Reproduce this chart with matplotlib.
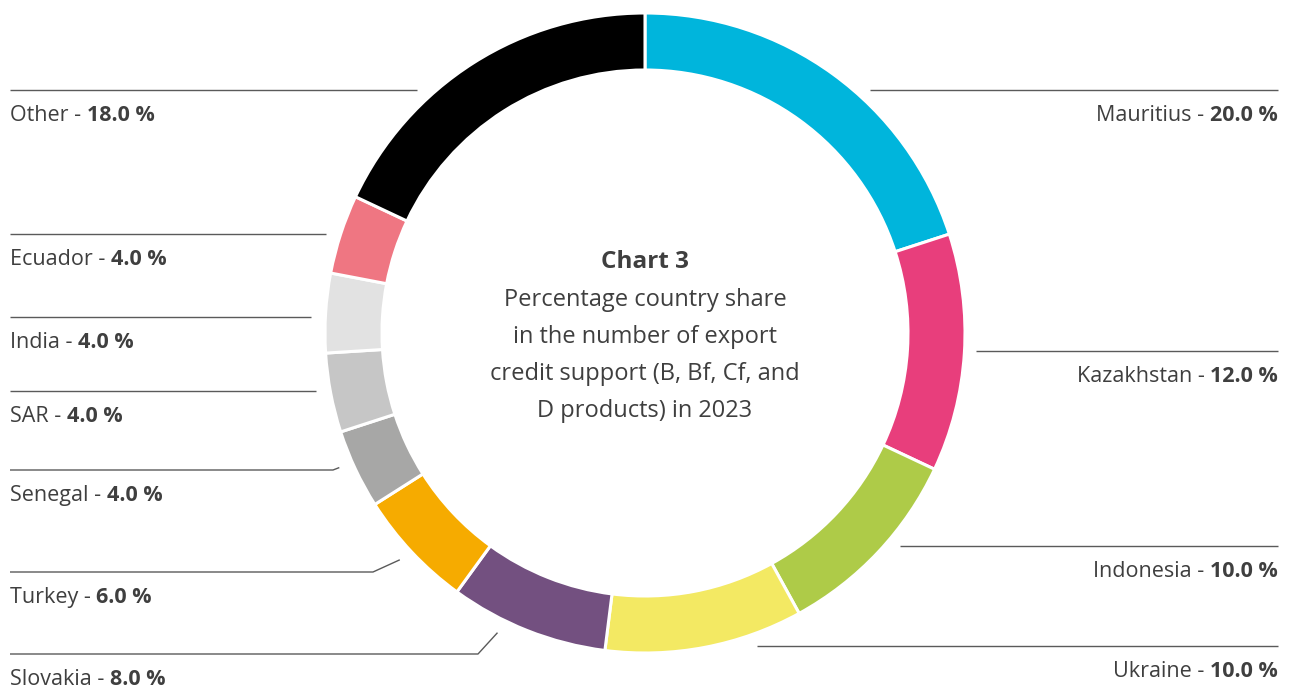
import matplotlib.pyplot as plt
import numpy as np

countries = ["Mauritius", "Kazakhstan", "Indonesia", "Ukraine", "Slovakia", "Turkey",
             "Senegal", "SAR", "India", "Ecuador", "Other"]
shares = [20.0, 12.0, 10.0, 10.0, 8.0, 6.0, 4.0, 4.0, 4.0, 4.0, 18.0]
colors = ["#00b5dc", "#e83e7c", "#aecb48", "#f3e963", "#735080", "#f6ab00",
          "#a7a7a6", "#c6c6c6", "#e2e2e2", "#ef7682", "#000000"]

title = "Chart 3"
subtitle = ["Percentage country share", "in the number of export",
            "credit support (B, Bf, Cf, and", "D products) in 2023"]

W, H = 1292, 691
cx, cy, R, ring = 645, 333, 320, 57
text_col = "#3f3f3f"
line_col = "#5a5a5a"
fs = 15.5

plt.rcParams['font.family'] = ['Open Sans', 'DejaVu Sans']

fig = plt.figure(figsize=(W / 100, H / 100), dpi=100)
ax = fig.add_axes([0, 0, 1, 1])

# y axis runs downward, so counterclock=True draws clockwise on screen
ax.pie(shares, colors=colors, center=(cx, cy), radius=R, startangle=-90,
       counterclock=True, wedgeprops=dict(width=ring, edgecolor="white", linewidth=2.2))
ax.set_xlim(0, W)
ax.set_ylim(H, 0)
ax.set_aspect('equal')
ax.axis('off')

# label layout: side, y of leader line, inner end x of line,
# where along the wedge the angled tip points (None = straight line)
layout = {
    "Mauritius": ("R", 90, 870, None),
    "Kazakhstan": ("R", 351, 976, None),
    "Indonesia": ("R", 546, 900, None),
    "Ukraine": ("R", 646, 757, None),
    "Slovakia": ("L", 654, 478, 0.66),
    "Turkey": ("L", 572, 373, 0.52),
    "Senegal": ("L", 470, 333, 0.6),
    "SAR": ("L", 391, 316, None),
    "India": ("L", 317, 311, None),
    "Ecuador": ("L", 234, 326, None),
    "Other": ("L", 90, 417, None),
}

cum = np.cumsum([0] + shares)
for i, name in enumerate(countries):
    side, ly, lx, tip = layout[name]
    if side == "L":
        xs, ys = [10, lx], [ly, ly]
    else:
        xs, ys = [lx, 1278], [ly, ly]
    if tip is not None:
        ang = np.deg2rad((cum[i] + shares[i] * tip) / 100 * 360)
        xs.append(cx + (R + 14) * np.sin(ang))
        ys.append(cy - (R + 14) * np.cos(ang))
    ax.plot(xs, ys, color=line_col, lw=1.0, solid_capstyle='butt')

    val = f"{shares[i]:.1f} %"
    if side == "L":
        t = ax.text(10, ly + 31, f"{name} - ", ha='left', va='baseline',
                    fontsize=fs, color=text_col)
        ax.annotate(val, xy=(1, 0), xycoords=t, ha='left', va='bottom',
                    fontsize=fs, color=text_col, fontweight='bold')
    else:
        t = ax.text(1278, ly + 31, val, ha='right', va='baseline',
                    fontsize=fs, color=text_col, fontweight='bold')
        ax.annotate(f"{name} - ", xy=(0, 0), xycoords=t, ha='right', va='bottom',
                    fontsize=fs, color=text_col)

ax.text(cx, 268, title, ha='center', va='baseline', fontsize=17.5,
        fontweight='bold', color=text_col)
for k, line in enumerate(subtitle):
    ax.text(cx, 306 + 37 * k, line, ha='center', va='baseline', fontsize=17,
            color=text_col)

fig.savefig("out.png", dpi=100)
